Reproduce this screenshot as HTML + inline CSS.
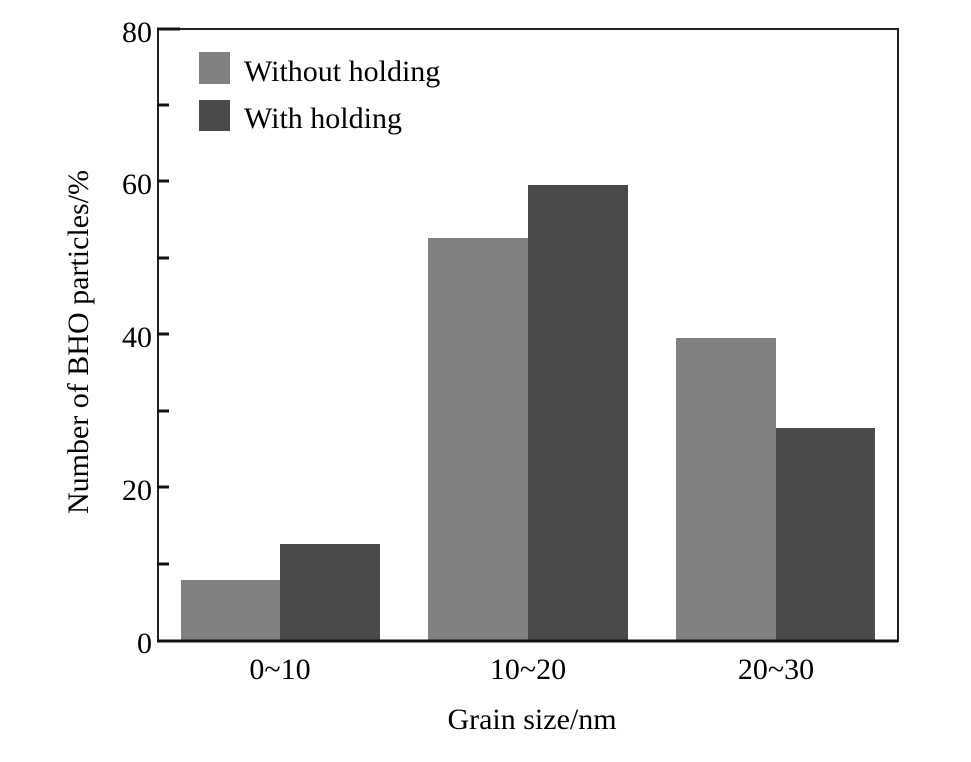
<!DOCTYPE html>
<html><head><style>
body{margin:0;background:#fff;}
svg text{font-family:"Liberation Serif",serif;fill:#000;}
</style></head><body>
<svg width="971" height="757" viewBox="0 0 971 757">
<rect x="158" y="29" width="740" height="612" fill="none" stroke="#222" stroke-width="2"/>
<g stroke="#111" stroke-width="3">
<line x1="157" y1="29" x2="180" y2="29"/>
<line x1="157" y1="105" x2="169" y2="105"/>
<line x1="157" y1="181" x2="169" y2="181"/>
<line x1="157" y1="258" x2="169" y2="258"/>
<line x1="157" y1="334" x2="169" y2="334"/>
<line x1="157" y1="411" x2="169" y2="411"/>
<line x1="157" y1="487" x2="169" y2="487"/>
<line x1="157" y1="564" x2="169" y2="564"/>
</g>
<g fill="#808080">
<rect x="181" y="580" width="99" height="61"/>
<rect x="428" y="238" width="100" height="403"/>
<rect x="676" y="338" width="100" height="303"/>
</g>
<g fill="#4a4a4a">
<rect x="280" y="544" width="100" height="97"/>
<rect x="528" y="185" width="100" height="456"/>
<rect x="776" y="428" width="99" height="213"/>
</g>
<line x1="157" y1="641" x2="898" y2="641" stroke="#111" stroke-width="3"/>
<g font-size="30" text-anchor="end">
<text x="152" y="42">80</text>
<text x="152" y="194">60</text>
<text x="152" y="347">40</text>
<text x="152" y="500">20</text>
<text x="152" y="653">0</text>
</g>
<g font-size="30" text-anchor="middle">
<text x="280" y="679">0~10</text>
<text x="528" y="679">10~20</text>
<text x="776" y="679">20~30</text>
<text x="532" y="729">Grain size/nm</text>
</g>
<text font-size="30" text-anchor="middle" transform="translate(88,342) rotate(-90)">Number of BHO particles/%</text>
<rect x="199" y="52" width="31" height="32" fill="#808080"/>
<rect x="199" y="100" width="31" height="31" fill="#4a4a4a"/>
<text x="244" y="81" font-size="30">Without holding</text>
<text x="244" y="128" font-size="30">With holding</text>
</svg>
</body></html>
